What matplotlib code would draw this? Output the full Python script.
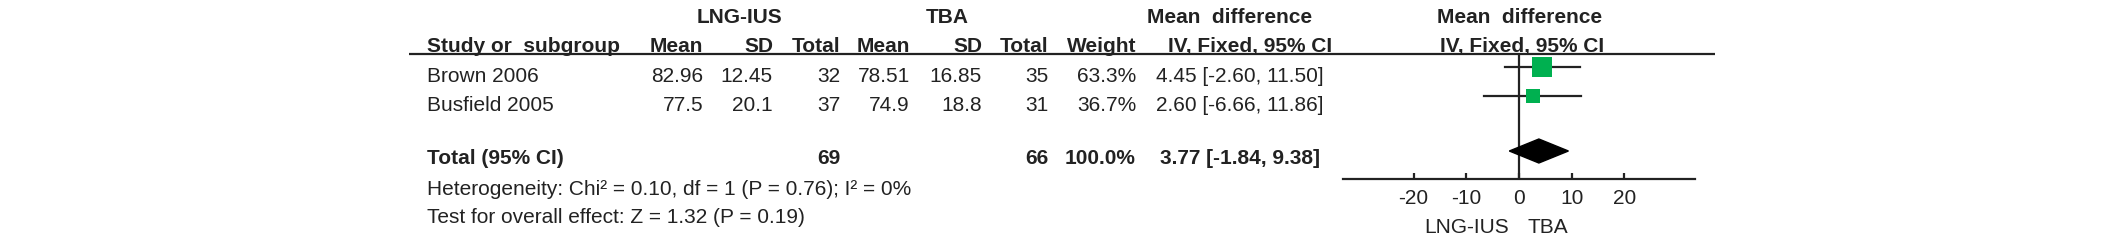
import matplotlib.pyplot as plt
import matplotlib.transforms as mtransforms
from matplotlib.patches import Polygon

plt.rcParams['font.family'] = ['Liberation Sans', 'DejaVu Sans']
plt.rcParams['axes.unicode_minus'] = False

# data
studies = ["Brown 2006", "Busfield 2005"]
lng_mean = [82.96, 77.5]
lng_sd = [12.45, 20.1]
lng_n = [32, 37]
tba_mean = [78.51, 74.9]
tba_sd = [16.85, 18.8]
tba_n = [35, 31]
weight = [63.3, 36.7]
md = [4.45, 2.60]
ci_low = [-2.60, -6.66]
ci_high = [11.50, 11.86]

total_lng_n = 69
total_tba_n = 66
total_weight = 100.0
total_md = 3.77
total_low = -1.84
total_high = 9.38

het_text = "Heterogeneity: Chi\u00b2 = 0.10, df = 1 (P = 0.76); I\u00b2 = 0%"
effect_text = "Test for overall effect: Z = 1.32 (P = 0.19)"
xticks = [-20, -10, 0, 10, 20]
favours = ["LNG-IUS", "TBA"]
favours_x = [-9.9, 5.5]

W, H = 2126, 242
TXT = '#222222'
GREEN = '#00b050'
FS = 15


def ci_str(m, lo, hi):
    return f"{m:.2f} [{lo:.2f}, {hi:.2f}]"


def main():
    fig = plt.figure(figsize=(W / 100, H / 100), dpi=100)
    ax_t = fig.add_axes([0, 0, 1, 1])
    ax_t.set_xlim(0, W)
    ax_t.set_ylim(H, 0)
    ax_t.axis('off')

    def put(x, y, s, ha='left', bold=False):
        ax_t.text(x, y, s, ha=ha, va='baseline', fontsize=FS, color=TXT,
                  fontweight='bold' if bold else 'normal')

    # column positions (pixels)
    col_study = 427
    cols_r = [703, 773, 840, 910, 982, 1048, 1136]
    col_ci = 1240

    # headers
    put(740, 23, "LNG-IUS", ha='center', bold=True)
    put(947, 23, "TBA", ha='center', bold=True)
    put(1230, 23, "Mean  difference", ha='center', bold=True)
    put(1520, 23, "Mean  difference", ha='center', bold=True)
    put(col_study, 52, "Study or  subgroup", bold=True)
    for x, s in zip(cols_r, ["Mean", "SD", "Total", "Mean", "SD", "Total", "Weight"]):
        put(x, 52, s, ha='right', bold=True)
    put(1250, 52, "IV, Fixed, 95% CI", ha='center', bold=True)
    put(1522, 52, "IV, Fixed, 95% CI", ha='center', bold=True)
    ax_t.plot([409, 1715], [53.5, 53.5], color=TXT, lw=1.6, solid_capstyle='butt')

    # study rows
    row_base = [82, 111]
    for i, name in enumerate(studies):
        y = row_base[i]
        put(col_study, y, name)
        vals = [f"{lng_mean[i]:g}", f"{lng_sd[i]:g}", str(lng_n[i]),
                f"{tba_mean[i]:g}", f"{tba_sd[i]:g}", str(tba_n[i]),
                f"{weight[i]:.1f}%"]
        for x, s in zip(cols_r, vals):
            put(x, y, s, ha='right')
        put(col_ci, y, ci_str(md[i], ci_low[i], ci_high[i]), ha='center')

    # total row
    put(col_study, 164, "Total (95% CI)", bold=True)
    put(cols_r[2], 164, str(total_lng_n), ha='right', bold=True)
    put(cols_r[5], 164, str(total_tba_n), ha='right', bold=True)
    put(cols_r[6], 164, f"{total_weight:.1f}%", ha='right', bold=True)
    put(col_ci, 164, ci_str(total_md, total_low, total_high), ha='center', bold=True)
    put(col_study, 195, het_text)
    put(col_study, 223, effect_text)

    # forest plot axes: x in data units, y in pixel rows
    x0, x1, ytop, ybot = 1343, 1695, 53, 179
    ax = fig.add_axes([x0 / W, (H - ybot) / H, (x1 - x0) / W, (ybot - ytop) / H])
    ax.patch.set_visible(False)
    ax.set_xlim(-33.4, 33.4)
    ax.set_ylim(ybot, ytop)
    for sp in ['top', 'left', 'right']:
        ax.spines[sp].set_visible(False)
    ax.spines['bottom'].set_linewidth(1.6)
    ax.spines['bottom'].set_color(TXT)
    ax.set_yticks([])
    ax.set_xticks(xticks)
    ax.tick_params(axis='x', direction='in', length=4.5, width=1.6, color=TXT,
                   labelsize=FS, labelcolor=TXT, pad=7)
    ax.axvline(0, color=TXT, lw=1.6)

    ry = [67, 96]
    for i in range(len(studies)):
        ax.plot([ci_low[i], ci_high[i]], [ry[i], ry[i]], color=TXT, lw=1.6)
        side = 0.93 * weight[i] ** 0.75 * 0.72
        ax.plot(md[i], ry[i], marker='s', ms=side, color=GREEN, mew=0, zorder=3)

    dy = 151
    ax.add_patch(Polygon([[total_low, dy], [total_md, dy - 12], [total_high, dy],
                          [total_md, dy + 12]], closed=True, color='black', zorder=3))

    tr = mtransforms.blended_transform_factory(ax.transData, ax_t.transData)
    for fx, s in zip(favours_x, favours):
        ax_t.text(fx, 233, s, transform=tr, ha='center', va='baseline',
                  fontsize=FS, color=TXT)

    fig.savefig("out.png", dpi=100)


if __name__ == "__main__":
    main()
